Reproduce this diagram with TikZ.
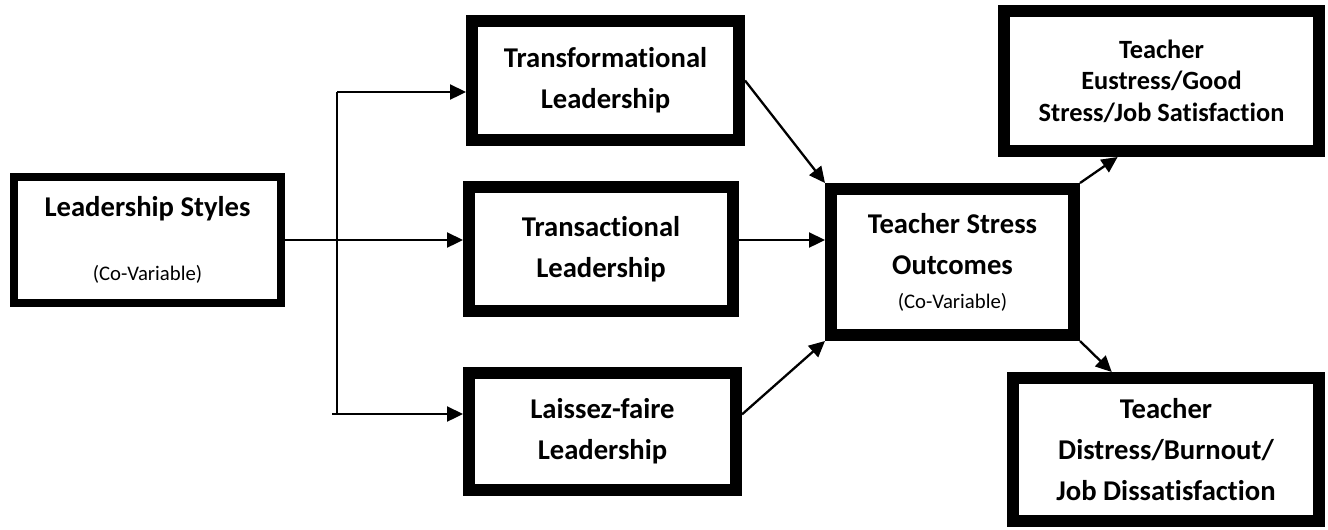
\documentclass[tikz,border=0pt]{standalone}
\usepackage{fontspec}
\setmainfont{Carlito}[Ligatures=NoCommon]
\usepackage{tikz}
\usetikzlibrary{arrows.meta}

\newcommand{\boxfont}{\fontsize{16.3}{23.3}\selectfont\bfseries}
\newcommand{\notefont}{\fontsize{11.8}{14}\selectfont\mdseries}

\begin{document}
\begin{tikzpicture}[
		every node/.style={draw, rectangle, fill=white, align=center, line width=0.24cm, font=\boxfont, inner sep=2pt},
		link/.style={line width=0.046cm, -{Triangle[length=0.32cm, width=0.3cm]}},
		plain/.style={line width=0.042cm}]
		\useasboundingbox (0,0) rectangle (26.56,-10.58);
		
		% Nodes
		\node (styles) [line width=0.16cm, minimum width=5.34cm, minimum height=2.52cm] at (2.95,-4.80)
			{Leadership Styles\\[13pt]{\notefont (Co-Variable)}};
		\node (transf) [minimum width=5.34cm, minimum height=2.38cm] at (12.11,-1.61) {Transformational\\Leadership};
		\node (trans) [minimum width=5.28cm, minimum height=2.48cm] at (12.02,-4.98) {Transactional\\Leadership};
		\node (laissez) [minimum width=5.34cm, minimum height=2.34cm] at (12.05,-8.63) {Laissez-faire\\Leadership};
		\node (stress) [minimum width=4.86cm, minimum height=2.92cm] at (19.05,-5.24)
			{Teacher Stress\\Outcomes\\[-4pt]{\notefont (Co-Variable)}};
		\node (eustress) [minimum width=6.30cm, minimum height=2.80cm, font=\fontsize{15}{18}\selectfont\bfseries] at (23.23,-1.62)
			{Teacher\\Eustress/Good\\Stress/Job Satisfaction};
		\node (distress) [minimum width=6.12cm, minimum height=2.86cm] at (23.32,-8.99)
			{Teacher\\Distress/Burnout/\\Job Dissatisfaction};
		
		% Fork
		\coordinate (forkTop) at (6.74,-1.84);
		\coordinate (forkBot) at (6.64,-8.28);
		
		% Edges
		\draw[link] (styles.east) -- (styles.east -| trans.west);
		\draw[plain] (forkTop) -- (forkTop |- forkBot);
		\draw[link] (forkTop) -- (forkTop -| transf.west);
		\draw[link] (forkBot) -- (forkBot -| laissez.west);
		\draw[link] (transf.east) -- (stress.north west);
		\draw[link] (styles.east -| trans.east) -- (styles.east -| stress.west);
		\draw[link] (laissez.7) -- (stress.south west);
		\draw[link] (stress.north east) -- (eustress.240);
		\draw[link] (stress.south east) -- (distress.125);
	\end{tikzpicture}
\end{document}
